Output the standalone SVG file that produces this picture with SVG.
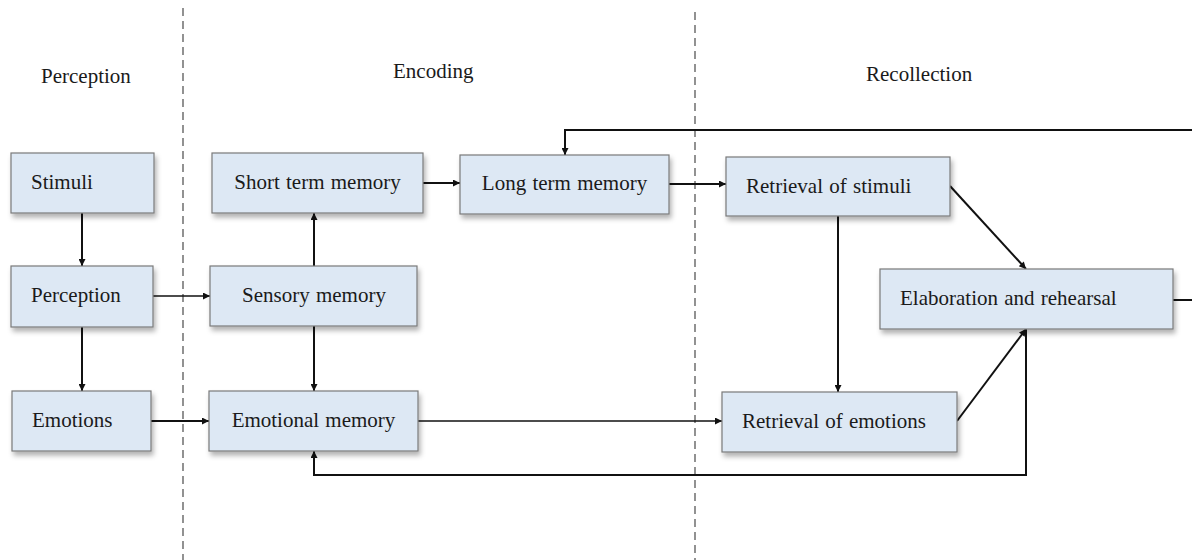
<svg xmlns="http://www.w3.org/2000/svg" width="1192" height="560" viewBox="0 0 1192 560">
<style>
.box{fill:#dde8f4;stroke:#7a7a7a;stroke-width:1.2;filter:url(#sh)}
.t{font-family:"Liberation Serif","Times New Roman",serif;font-size:21px;fill:#1a1a1a;word-spacing:1px}
.h{font-family:"Liberation Serif","Times New Roman",serif;font-size:21px;fill:#1a1a1a}
.c{fill:none;stroke:#111;stroke-width:2}
.c2{fill:none;stroke:#111;stroke-width:1.5}
.d{stroke:#777;stroke-width:1.6;stroke-dasharray:8 5}
</style>
<defs>
<filter id="sh" x="-10%" y="-10%" width="125%" height="135%">
<feDropShadow dx="2" dy="4" stdDeviation="2.5" flood-color="#000" flood-opacity="0.3"/>
</filter>
<marker id="b" viewBox="0 0 10 10" refX="10" refY="5" markerWidth="9" markerHeight="7" markerUnits="userSpaceOnUse" orient="auto"><path d="M0,0 L10,5 L0,10 z" fill="#111"/></marker>
</defs>
<g id="dividers">
<line class="d" x1="183" y1="8" x2="183" y2="560"/>
<line class="d" x1="695" y1="12" x2="695" y2="560"/>
</g>
<g id="headers">
<text class="h" x="41" y="83">Perception</text>
<text class="h" x="393" y="78">Encoding</text>
<text class="h" x="866" y="81">Recollection</text>
</g>
<g id="connectors">
<line class="c" x1="82" y1="213" x2="82" y2="266" marker-end="url(#b)"/>
<line class="c2" x1="153" y1="296" x2="210" y2="296" marker-end="url(#b)"/>
<line class="c" x1="82" y1="327" x2="82" y2="391" marker-end="url(#b)"/>
<line class="c" x1="151" y1="421" x2="209" y2="421" marker-end="url(#b)"/>
<line class="c" x1="314" y1="266" x2="314" y2="213" marker-end="url(#b)"/>
<line class="c" x1="314" y1="326" x2="314" y2="391" marker-end="url(#b)"/>
<line class="c" x1="423" y1="183" x2="460" y2="183" marker-end="url(#b)"/>
<line class="c" x1="669" y1="184" x2="726" y2="184" marker-end="url(#b)"/>
<line class="c2" x1="418" y1="421" x2="722" y2="421" marker-end="url(#b)"/>
<line class="c" x1="838" y1="216" x2="838" y2="392" marker-end="url(#b)"/>
<line class="c" x1="950" y1="186" x2="1026" y2="269" marker-end="url(#b)"/>
<line class="c" x1="957" y1="421" x2="1026" y2="329" marker-end="url(#b)"/>
<polyline class="c" points="1173,300 1192,300"/>
<polyline class="c" points="1192,130 565,130 565,155" marker-end="url(#b)"/>
<polyline class="c" points="1026,329 1026,475 314,475 314,451" marker-end="url(#b)"/>
</g>
<g id="stimuli"><rect class="box" x="11" y="153" width="143" height="60"/><text class="t" x="31" y="189">Stimuli</text></g>
<g id="perception"><rect class="box" x="11" y="266" width="142" height="61"/><text class="t" x="31" y="302">Perception</text></g>
<g id="emotions"><rect class="box" x="12" y="391" width="139" height="60"/><text class="t" x="32" y="427">Emotions</text></g>
<g id="short-term-memory"><rect class="box" x="212" y="153" width="211" height="60"/><text class="t" x="317.5" y="189" text-anchor="middle">Short term memory</text></g>
<g id="sensory-memory"><rect class="box" x="210" y="266" width="207" height="60"/><text class="t" x="314" y="302" text-anchor="middle">Sensory memory</text></g>
<g id="emotional-memory"><rect class="box" x="209" y="391" width="209" height="60"/><text class="t" x="313.5" y="427" text-anchor="middle">Emotional memory</text></g>
<g id="long-term-memory"><rect class="box" x="460" y="155" width="209" height="59"/><text class="t" x="564.5" y="190" text-anchor="middle">Long term memory</text></g>
<g id="retrieval-of-stimuli"><rect class="box" x="726" y="157" width="224" height="59"/><text class="t" x="746" y="193">Retrieval of stimuli</text></g>
<g id="elaboration-and-rehearsal"><rect class="box" x="880" y="269" width="293" height="60"/><text class="t" x="900" y="305">Elaboration and rehearsal</text></g>
<g id="retrieval-of-emotions"><rect class="box" x="722" y="392" width="235" height="60"/><text class="t" x="742" y="428">Retrieval of emotions</text></g>
</svg>
